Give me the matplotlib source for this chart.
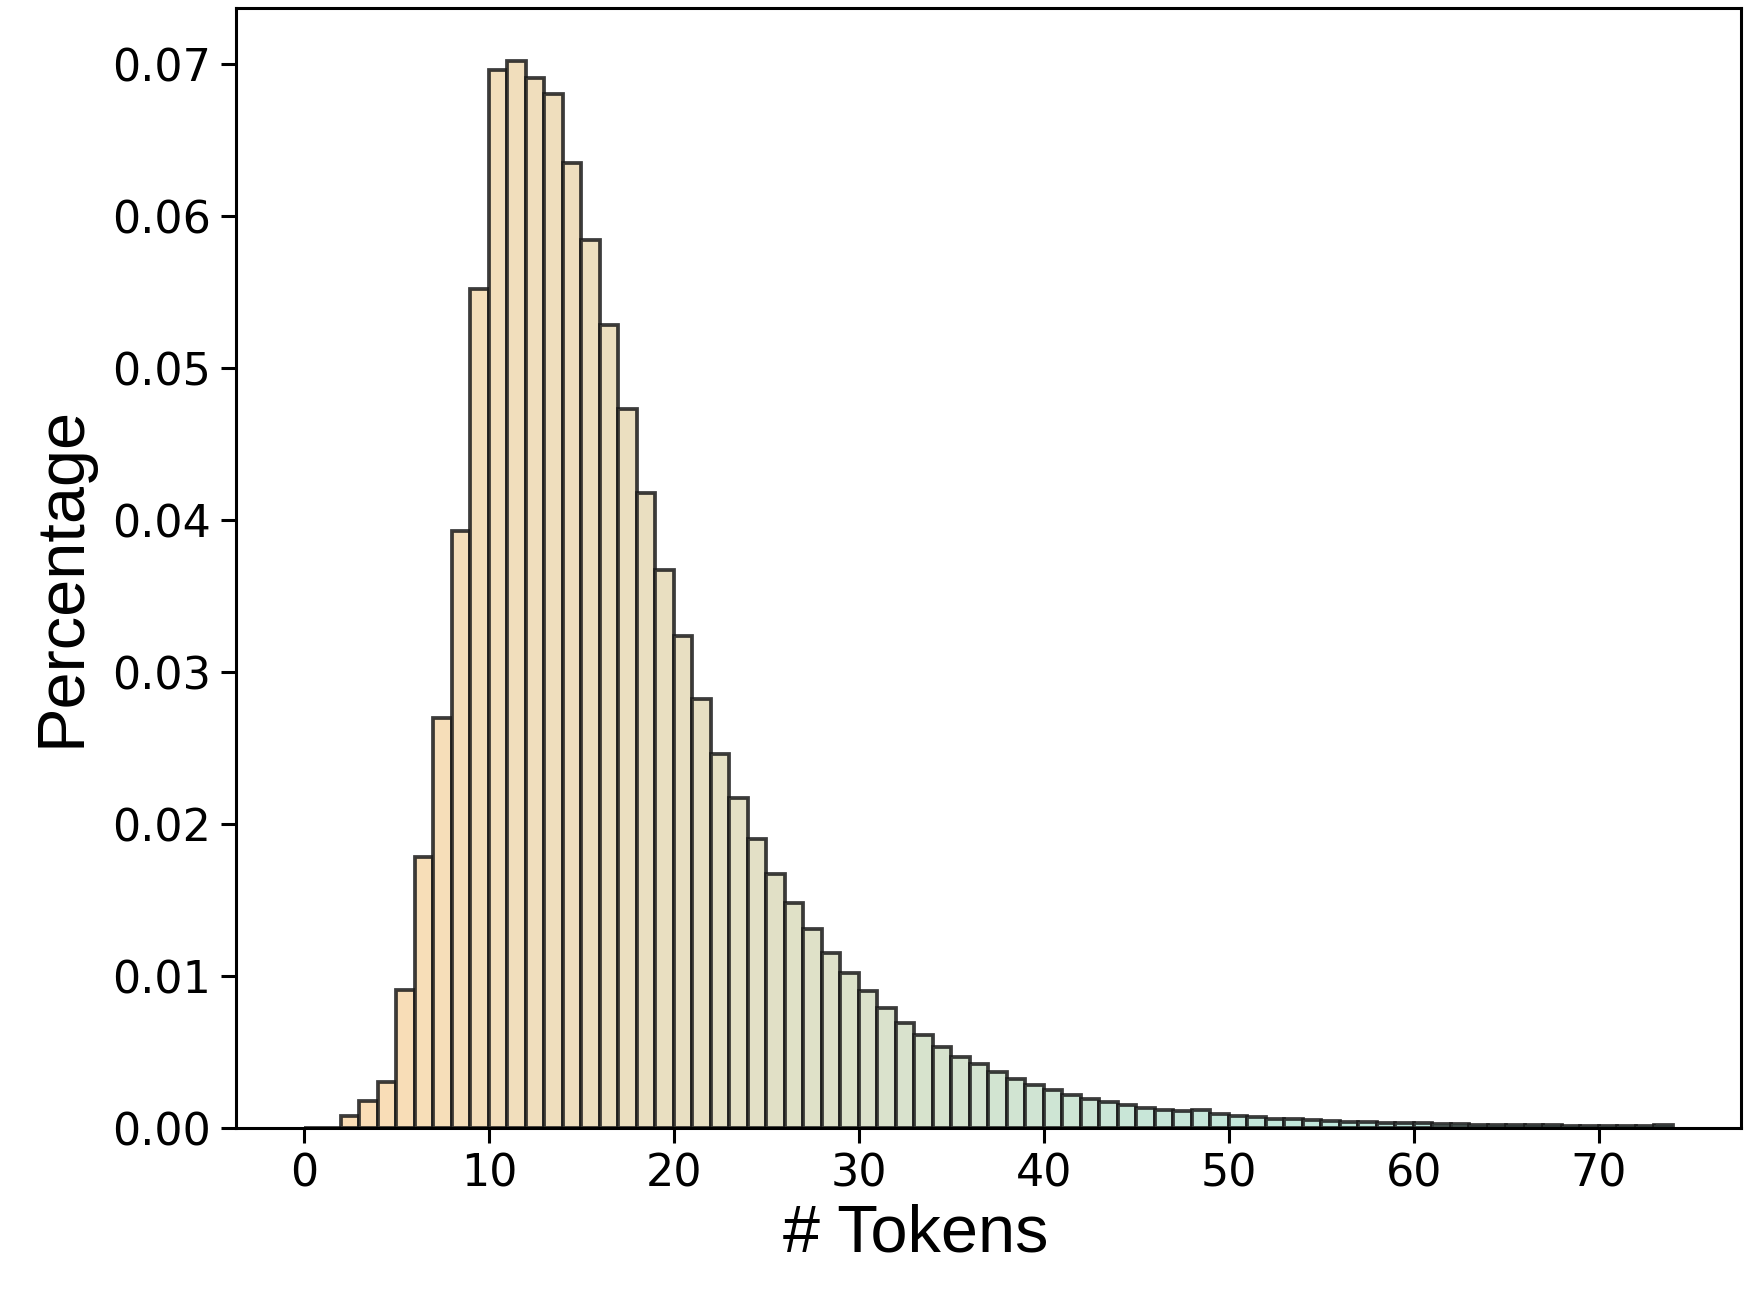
import matplotlib
matplotlib.use("Agg")
import matplotlib.pyplot as plt
import numpy as np
from matplotlib.colors import LinearSegmentedColormap

# bin edges: integer token counts 0..74
bin_starts = list(range(0, 74))
percentages = [
    0.0, 0.0, 0.0008, 0.0018, 0.0030, 0.0091, 0.0178, 0.0270, 0.0393, 0.0552,
    0.0696, 0.0702, 0.0691, 0.0680, 0.0635, 0.0584, 0.0528, 0.0473, 0.0418, 0.0367,
    0.0324, 0.0282, 0.0246, 0.0217, 0.0190, 0.0167, 0.0148, 0.0131, 0.0115, 0.0102,
    0.0090, 0.0079, 0.0069, 0.0061, 0.0053, 0.0047, 0.0042, 0.0037, 0.0032, 0.0028,
    0.0025, 0.0022, 0.0019, 0.0017, 0.0015, 0.0013, 0.0012, 0.0011, 0.0012, 0.0009,
    0.0008, 0.00072, 0.00062, 0.00060, 0.00054, 0.00048, 0.00042, 0.00041, 0.00035, 0.00035,
    0.00034, 0.00028, 0.00028, 0.00022, 0.00022, 0.00021, 0.00021, 0.00020, 0.00015, 0.00015,
    0.00015, 0.00015, 0.00015, 0.00022,
]
yticks = [0.00, 0.01, 0.02, 0.03, 0.04, 0.05, 0.06, 0.07]
xticks = [0, 10, 20, 30, 40, 50, 60, 70]

fig = plt.figure(figsize=(8.75, 6.515), dpi=200)
ax = fig.add_axes([0.1346, 0.1343, 0.8603, 0.8597])

cmap = LinearSegmentedColormap.from_list(
    "pm", [(0.0, "#FDDDB4"), (0.27, "#E8DFC2"), (0.62, "#C8E6D8"), (1.0, "#B2EAE4")])
n = len(bin_starts)
colors = [cmap(i / (n - 1)) for i in range(n)]

ax.bar(bin_starts, percentages, width=1.0, align="edge", color=colors,
       edgecolor=(0.1, 0.1, 0.1, 0.85), linewidth=1.35)

ax.set_xlim(-3.7, 77.7)
ax.set_ylim(0, 0.0737)
ax.set_yticks(yticks)
ax.set_yticklabels([f"{v:.2f}" for v in yticks])
ax.set_xticks(xticks)
ax.tick_params(labelsize=16, width=1.1, length=5.4)
for s in ax.spines.values():
    s.set_linewidth(1.1)

label_font = ["Liberation Sans", "DejaVu Sans"]
ax.set_xlabel("# Tokens", fontsize=24, family=label_font)
ax.set_ylabel("Percentage", fontsize=24, family=label_font)
ax.xaxis.set_label_coords(0.452, -0.067)
ax.yaxis.set_label_coords(-0.0945, 0.4925)

fig.savefig("out.png", dpi=200)
